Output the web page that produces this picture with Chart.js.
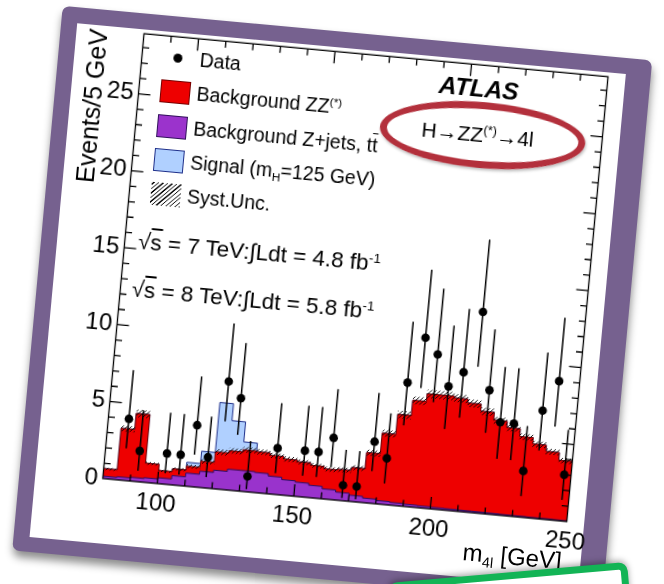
<!DOCTYPE html>
<html>
<head>
<meta charset="utf-8">
<script src="https://cdn.jsdelivr.net/npm/chart.js@4.4.1/dist/chart.umd.min.js"></script>
<style>
  html, body { margin: 0; padding: 0; width: 664px; height: 584px; overflow: hidden; background: #fff; }
  body { font-family: "Liberation Sans", Arial, Helvetica, sans-serif; position: relative; }
  #sheet { position: absolute; left: 0; top: 0; width: 664px; height: 584px;
           transform: rotate(5.3deg); transform-origin: 355.5px 276.5px; }
  #card { position: absolute; left: 39px; top: 34px; width: 592px; height: 547px; background: #76618f;
          border-radius: 7px; box-shadow: 1px 6px 9px rgba(0,0,0,0.45); }
  #inner { position: absolute; left: 55px; top: 50px; width: 551px; height: 516px; background: #fff; }
  #chartBox { position: absolute; left: 55px; top: 50px; width: 571px; height: 516px; }
  .t { position: absolute; white-space: nowrap; color: #000; line-height: 24px; height: 24px; }
  .leg { font-size: 19.5px; left: 180.5px; }
  .box { position: absolute; width: 30px; height: 23px; box-sizing: border-box; }
  sup { font-size: 0.6em; vertical-align: 0.6em; line-height: 0; }
  sub { font-size: 0.6em; vertical-align: -0.35em; line-height: 0; }
  .ov { text-decoration: overline; }
  #ellipse { position: absolute; left: 366px; top: 91px; width: 206px; height: 66px; box-sizing: border-box;
             border: 7px solid #b3303c; border-radius: 50%; transform: rotate(-0.5deg);
             box-shadow: 1px 2px 3px rgba(0,0,0,0.25); }
  #green { position: absolute; left: 387px; top: 562px; width: 240px; height: 90px; box-sizing: border-box;
           border: 7px solid #12b455; border-radius: 9px; background: #fff;
           transform: rotate(-5deg); transform-origin: top right; box-shadow: 0 -2px 6px rgba(0,0,0,0.35); }
</style>
</head>
<body>
<div id="sheet">
  <div id="card"></div>
  <div id="inner"></div>
  <div id="chartBox"><canvas id="m4lChart" width="571" height="516"></canvas></div>

  <div class="t" style="left:-3px; top:116px; width:160px; height:30px; line-height:30px; font-size:25px; text-align:center; transform:rotate(-90deg);">Events/5 GeV</div>
  <div class="t" style="left:435px; top:529px; width:152px; font-size:24px; text-align:right;">m<sub>4l</sub> [GeV]</div>

  <div style="position:absolute; left:154.3px; top:70.5px; width:9px; height:9px; border-radius:50%; background:#000;"></div>
  <div class="box" style="left:144.3px; top:97.5px; background:#ee0000; border:1px solid #700;"></div>
  <div class="box" style="left:144.3px; top:132.5px; background:#9b33cc; border:1px solid #30105a;"></div>
  <div class="box" style="left:144.3px; top:166.5px; background:#b0d0ff; border:1px solid #1e2f8a;"></div>
  <div class="box" style="left:144.3px; top:200.5px; background:repeating-linear-gradient(-45deg, #000 0 1px, #fff 1px 3.2px);"></div>

  <div class="t leg" style="top:63px;">Data</div>
  <div class="t leg" style="top:97px;">Background ZZ<sup>(*)</sup></div>
  <div class="t leg" style="top:132px;">Background Z+jets, t<span class="ov">t</span></div>
  <div class="t leg" style="top:166px;">Signal (m<sub>H</sub>=125 GeV)</div>
  <div class="t leg" style="top:200px;">Syst.Unc.</div>

  <div class="t" style="left:361px; top:66px; width:200px; text-align:center; font-size:24.5px; font-weight:bold; font-style:italic;">ATLAS</div>
  <div class="t" style="left:364px; top:112px; width:200px; text-align:center; font-size:21px;">H→ZZ<sup>(*)</sup>→4l</div>
  <div id="ellipse"></div>

  <div class="t" style="left:136px; top:250px; font-size:22.5px;">√<span class="ov">s</span> = 7 TeV:∫Ldt = 4.8 fb<sup>-1</sup></div>
  <div class="t" style="left:134px; top:298px; font-size:22.5px;">√<span class="ov">s</span> = 8 TeV:∫Ldt = 5.8 fb<sup>-1</sup></div>
</div>
<div id="green"></div>

<script>
// lower edge of each 5 GeV bin in m4l
const massBinLow = [80, 85, 90, 95, 100, 105, 110, 115, 120, 125, 130, 135, 140, 145, 150, 155, 160,
                    165, 170, 175, 180, 185, 190, 195, 200, 205, 210, 215, 220, 225, 230, 235, 240, 245]
const binWidth = 5

// background Z+jets, ttbar (bottom of the stack)
const zjetsBackground = [0.15, 0.2, 0.25, 0.3, 0.38, 0.6, 0.85, 1.05, 1.2, 1.35, 1.35, 1.3, 1.15, 1.0, 0.92, 0.8, 0.65,
                         0.52, 0.4, 0.3, 0.22, 0.18, 0.15, 0.13, 0.12, 0.11, 0.1, 0.09, 0.08, 0.07, 0.07, 0.06, 0.06, 0.05]
// background ZZ(*)
const zzBackground = [0.5, 3.15, 4.15, 0.95, 0.47, 0.45, 0.45, 0.65, 1.2, 1.2, 1.35, 1.35, 1.35, 1.35, 1.33, 1.3, 1.3,
                      1.48, 1.8, 2.95, 4.38, 5.72, 6.75, 7.27, 7.28, 7.19, 6.95, 6.51, 6.02, 5.63, 5.13, 4.74, 4.34, 3.85]
// signal mH = 125 GeV
const higgsSignal = [0, 0, 0, 0, 0, 0, 0.25, 0.65, 3.2, 1.95, 0.5, 0, 0, 0, 0, 0, 0,
                     0, 0, 0, 0, 0, 0, 0, 0, 0, 0, 0, 0, 0, 0, 0, 0, 0]
// systematic uncertainty on total background (absolute)
const systUnc = [0.08, 0.2, 0.25, 0.1, 0.08, 0.1, 0.12, 0.14, 0.18, 0.18, 0.18, 0.18, 0.17, 0.17, 0.16, 0.15, 0.15,
                 0.15, 0.16, 0.2, 0.22, 0.24, 0.25, 0.26, 0.26, 0.26, 0.25, 0.24, 0.23, 0.22, 0.21, 0.2, 0.19, 0.18]
// observed events
const dataCounts = [0, 4, 2, 0, 2, 2, 4, 2, 7, 6, 1, 0, 3, 0, 3, 3, 4,
                    1, 1, 4, 3, 8, 11, 10, 8, 9, 13, 8, 6, 6, 3, 7, 9, 3]
// 68% Poisson intervals [low, high] by count
const poissonInterval = {
  1: [0.173, 3.300], 2: [0.708, 4.638], 3: [1.367, 5.918], 4: [2.086, 7.163], 6: [3.620, 9.584],
  7: [4.419, 10.77], 8: [5.232, 11.95], 9: [6.057, 13.11], 10: [6.891, 14.27], 11: [7.734, 15.42], 13: [9.441, 17.70]
}
const xTickLabels = [100, 150, 200, 250]
const yTickLabels = [0, 5, 10, 15, 20, 25]

const fontFamily = '"Liberation Sans", Arial, Helvetica, sans-serif'

// histogram as step line: one point per lower edge, plus the closing upper edge
function steps(values) {
  const pts = massBinLow.map((x, i) => ({ x: x, y: values[i] }))
  pts.push({ x: massBinLow[massBinLow.length - 1] + binWidth, y: values[values.length - 1] })
  return pts
}

const purpleTop = zjetsBackground.slice()
const redTop = zjetsBackground.map((v, i) => v + zzBackground[i])
const signalTop = redTop.map((v, i) => v + higgsSignal[i])
const systHigh = redTop.map((v, i) => v + systUnc[i])
const systLow = redTop.map((v, i) => Math.max(0, v - systUnc[i]))

const dataPoints = massBinLow
  .map((x, i) => dataCounts[i] > 0 ? { x: x + binWidth / 2, y: dataCounts[i] } : null)
  .filter(p => p)

function hatchPattern(ctx) {
  const c = document.createElement("canvas")
  c.width = 4
  c.height = 4
  const g = c.getContext("2d")
  g.strokeStyle = "#000"
  g.lineWidth = 0.9
  g.beginPath()
  g.moveTo(0, 4); g.lineTo(4, 0)
  g.moveTo(-1, 1); g.lineTo(1, -1)
  g.moveTo(3, 5); g.lineTo(5, 3)
  g.stroke()
  return ctx.createPattern(c, "repeat")
}

const errorBars = {
  id: "errorBars",
  afterDatasetsDraw(chart) {
    const { ctx, scales: { x, y } } = chart
    ctx.save()
    ctx.strokeStyle = "#000"
    ctx.lineWidth = 1.5
    massBinLow.forEach((lo, i) => {
      const n = dataCounts[i]
      if (!n) return
      const [a, b] = poissonInterval[n]
      const px = x.getPixelForValue(lo + binWidth / 2)
      ctx.beginPath()
      ctx.moveTo(px, y.getPixelForValue(a))
      ctx.lineTo(px, y.getPixelForValue(b))
      ctx.stroke()
    })
    ctx.restore()
  }
}

// ROOT style frame with inward ticks on all four sides
const atlasFrame = {
  id: "atlasFrame",
  afterDatasetsDraw(chart) {
    const { ctx, chartArea: a, scales: { x, y } } = chart
    ctx.save()
    ctx.strokeStyle = "#000"
    ctx.lineWidth = 1.3
    ctx.strokeRect(a.left, a.top, a.right - a.left, a.bottom - a.top)
    ctx.beginPath()
    for (let v = 90; v < 250; v += 10) {
      const len = xTickLabels.includes(v) ? 12 : 6.5
      const px = x.getPixelForValue(v)
      ctx.moveTo(px, a.bottom); ctx.lineTo(px, a.bottom - len)
      ctx.moveTo(px, a.top); ctx.lineTo(px, a.top + len)
    }
    for (let v = 1; v < y.max; v += 1) {
      const len = yTickLabels.includes(v) ? 12 : 6.5
      const py = y.getPixelForValue(v)
      ctx.moveTo(a.left, py); ctx.lineTo(a.left + len, py)
      ctx.moveTo(a.right, py); ctx.lineTo(a.right - len, py)
    }
    ctx.stroke()
    ctx.restore()
  }
}

const canvas = document.getElementById("m4lChart")
const ctx = canvas.getContext("2d")
const hatch = hatchPattern(ctx)

const lineBase = { stepped: true, pointRadius: 0, borderWidth: 1, tension: 0 }

new Chart(ctx, {
  type: "line",
  data: {
    datasets: [
      { label: "Data", data: dataPoints, showLine: false, pointRadius: 4.3, pointBackgroundColor: "#000",
        pointBorderColor: "#000", borderWidth: 0, fill: false },
      { ...lineBase, label: "Syst.Unc.", data: steps(systHigh), borderColor: "rgba(0,0,0,0)", borderWidth: 0,
        backgroundColor: hatch, fill: { target: "+1" } },
      { ...lineBase, label: "syst low", data: steps(systLow), borderColor: "rgba(0,0,0,0)", borderWidth: 0, fill: false },
      { ...lineBase, label: "Background Z+jets, tt", data: steps(purpleTop), borderColor: "#2a0f66",
        backgroundColor: "#9933cc", fill: "origin" },
      { ...lineBase, label: "Background ZZ(*)", data: steps(redTop), borderColor: "#7a0000",
        backgroundColor: "#ee0000", fill: "origin" },
      { ...lineBase, label: "Signal (mH=125 GeV)", data: steps(signalTop), borderColor: "#1e2f8a",
        backgroundColor: "#b0d0ff", fill: "origin" }
    ]
  },
  options: {
    responsive: false,
    animation: false,
    events: [],
    layout: { padding: { left: 0, top: 2, right: 37.5, bottom: 15 } },
    plugins: {
      legend: { display: false },
      tooltip: { enabled: false },
      filler: { propagate: false }
    },
    scales: {
      x: {
        type: "linear", min: 80, max: 250,
        grid: { display: false, drawTicks: false },
        border: { display: false },
        afterBuildTicks: s => { s.ticks = xTickLabels.map(v => ({ value: v })) },
        afterFit: s => { s.height = 50; s.paddingLeft = 0; s.paddingRight = 0 },
        ticks: { color: "#000", font: { family: fontFamily, size: 24 }, padding: 6, maxRotation: 0, autoSkip: false }
      },
      y: {
        type: "linear", min: 0, max: 28.9,
        grid: { display: false, drawTicks: false },
        border: { display: false },
        afterBuildTicks: s => { s.ticks = yTickLabels.map(v => ({ value: v })) },
        afterFit: s => { s.width = 67.5; s.paddingTop = 0; s.paddingBottom = 0 },
        ticks: { color: "#000", font: { family: fontFamily, size: 24 }, padding: 5, autoSkip: false }
      }
    }
  },
  plugins: [errorBars, atlasFrame]
})
</script>
</body>
</html>
